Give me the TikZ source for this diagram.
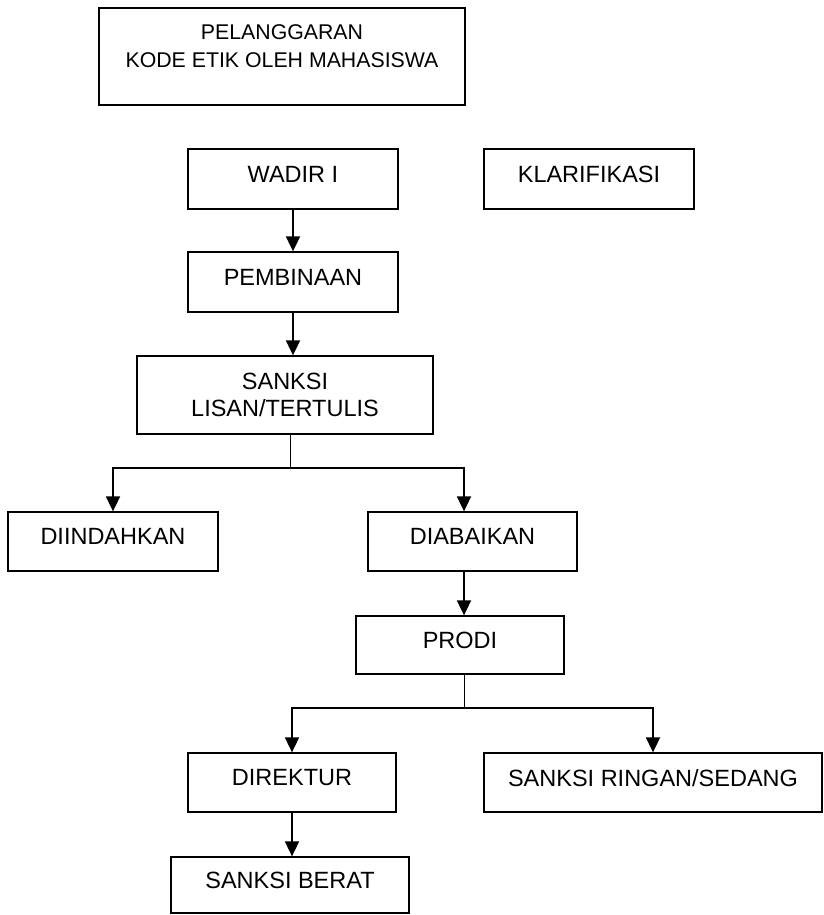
\documentclass[tikz,border=0pt]{standalone}
\usepackage{fontspec}
\setmainfont{Liberation Sans}
\usetikzlibrary{arrows.meta}
\begin{document}
\begin{tikzpicture}[x=1pt,y=-1pt,
    kotak/.style={draw, line width=1.3pt, inner sep=0pt, text depth=10pt, align=center, font=\fontsize{23.5}{27.5}\selectfont},
    panah/.style={line width=1.8pt, -{Triangle[width=14pt,length=15pt]}},
    batang/.style={line width=1pt}]
    \useasboundingbox (0,0) rectangle (823,915);
    % Pelanggaran dan klarifikasi
    \node[kotak, minimum width=366pt, minimum height=97pt, text depth=21pt, font=\fontsize{21.3}{28}\selectfont] (pelanggaran) at (282,56.5) {PELANGGARAN\\KODE ETIK OLEH MAHASISWA};
    \node[kotak, minimum width=210pt, minimum height=60pt] (wadir) at (293,179) {WADIR I};
    \node[kotak, minimum width=210pt, minimum height=60pt] (klarifikasi) at (589,179) {KLARIFIKASI};
    \node[kotak, minimum width=210pt, minimum height=60pt] (pembinaan) at (293,282) {PEMBINAAN};
    \node[kotak, minimum width=296pt, minimum height=78pt, text depth=0pt] (sanksi) at (285,395) {SANKSI\\LISAN/TERTULIS};
    % Hasil sanksi
    \node[kotak, minimum width=210pt, minimum height=59pt] (diindahkan) at (113,541.5) {DIINDAHKAN};
    \node[kotak, minimum width=209pt, minimum height=59pt] (diabaikan) at (472.5,541.5) {DIABAIKAN};
    \node[kotak, minimum width=208pt, minimum height=58pt] (prodi) at (460,645) {PRODI};
    \node[kotak, minimum width=208pt, minimum height=59pt] (direktur) at (292,782.5) {DIREKTUR};
    \node[kotak, minimum width=338pt, minimum height=59pt] (ringan) at (653,782.5) {SANKSI RINGAN/SEDANG};
    \node[kotak, minimum width=238pt, minimum height=56pt] (berat) at (290,885) {SANKSI BERAT};
    % Titik cabang
    \coordinate (cabang1) at (290,468);
    \coordinate (cabang2) at (464,708);
    % Panah
    \draw[panah] (wadir) -- (pembinaan);
    \draw[panah] (pembinaan.south) -- (pembinaan.south |- sanksi.north);
    \draw[batang] (sanksi.south -| cabang1) -- (cabang1);
    \draw[panah] (cabang1) -| (diindahkan.north);
    \draw[panah] (cabang1) -| (diabaikan.north -| cabang2);
    \draw[panah] (diabaikan.south -| cabang2) -- (prodi.north -| cabang2);
    \draw[batang] (prodi.south -| cabang2) -- (cabang2);
    \draw[panah] (cabang2) -| (direktur.north);
    \draw[panah] (cabang2) -| (ringan.north);
    \draw[panah] (direktur.south) -- (direktur.south |- berat.north);
\end{tikzpicture}
\end{document}
